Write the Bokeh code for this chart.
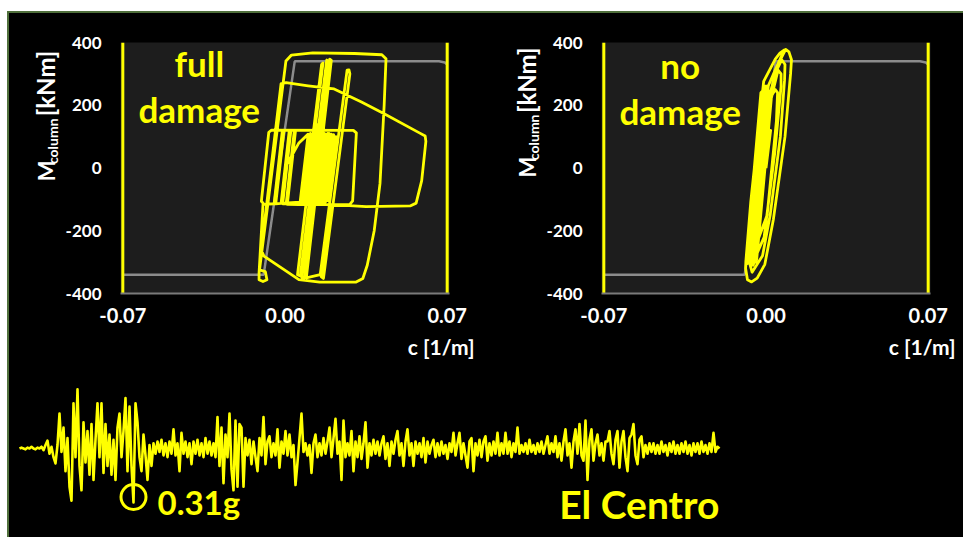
import numpy as np
from bokeh.plotting import figure
from bokeh.layouts import row, column
from bokeh.models import Range1d, FixedTicker, PrintfTickFormatter, Label
from bokeh.embed import file_html
from bokeh.resources import INLINE

YEL = "#ffff00"
GREY = "#8c8c8c"
FONT = "Lato"

# ---------------- data ----------------
curv_ticks = [-0.07, 0.0, 0.07]
moment_ticks = [-400, -200, 0, 200, 400]
limit_curv = [-0.07, 0.07]
backbone_c = [-0.07, -0.0092, 0.0042, 0.0665, 0.0690, 0.0700]
backbone_m = [-340, -340, 340, 340, 336, 330]

full_damage_path = [
    (0.0000, 0), (0.0060, 80),
    (0.0100, 108), (0.0065, -110), (0.0110, 110), (0.0075, -112), (0.0120, 108), (0.0085, -110),
    (0.0130, 110), (0.0095, -112), (0.0140, 108), (0.0105, -110), (0.0150, 110), (0.0115, -112),
    (0.0160, 108), (0.0125, -110), (0.0170, 110), (0.0135, -112), (0.0180, 108), (0.0145, -110),
    (0.0190, 110), (0.0155, -112), (0.0200, 108), (0.0165, -110), (0.0210, 106), (0.0175, -108),
    (0.0220, 100), (0.0185, -104),
    (0.0205, 104), (0.0170, -106), (0.0195, 108), (0.0160, -110), (0.0185, 110), (0.0150, -112),
    (0.0175, 108), (0.0140, -110), (0.0165, 110), (0.0130, -112), (0.0155, 108), (0.0120, -110),
    (0.0145, 110), (0.0110, -112), (0.0135, 140), (0.0100, -110), (0.0125, 110), (0.0090, -112),
    (0.0115, 106), (0.0080, -108),
    (-0.0090, -116), (-0.0102, -106), (-0.0070, 114), (-0.0058, 121), (0.0295, 120), (0.0308, 112),
    (0.0292, -105), (0.0280, -116), (0.0060, -117),
    (0.0010, -116), (0.0045, 116), (0.0040, 118), (0.0005, -114), (-0.0010, -114), (0.0025, 117),
    (0.0018, 117), (-0.0017, -113), (-0.0040, -114), (-0.0005, 116), (-0.0012, 116), (-0.0047, -114),
    (-0.0095, -116), (-0.0112, -335), (-0.0112, -356), (-0.0095, -362), (-0.0078, -356),
    (-0.0085, -330), (-0.0110, -325),
    (0.0004, 341), (0.0028, 360), (0.0120, 367), (0.0300, 365), (0.0418, 361), (0.0436, 348),
    (0.0428, 200), (0.0410, -50), (0.0385, -200), (0.0355, -310), (0.0336, -352), (0.0305, -364),
    (0.0150, -364), (0.0060, -356),
    (-0.0091, -281), (-0.0102, -262), (-0.0100, -245), (-0.0017, 269), (0.0005, 272), (0.0100, 262),
    (0.0212, 252), (0.0330, 210), (0.0430, 172), (0.0580, 112), (0.0605, 102), (0.0608, 85),
    (0.0590, -40), (0.0566, -112), (0.0540, -121), (0.0350, -123), (0.0260, -119),
    (0.0200, -120), (0.0156, -346), (0.0166, -352), (0.0280, 300), (0.0276, 313), (0.0268, 312),
    (0.0152, -340), (0.0092, -350), (0.0200, 343), (0.0193, 347), (0.0084, -350), (0.0072, -348),
    (0.0186, 340), (0.0180, 344), (0.0066, -344), (0.0054, -340), (0.0164, 335), (0.0158, 330),
    (0.0120, 100), (0.0130, 0),
]

no_damage_path = [
    (0.0000, 0), (0.0020, 120),
    (-0.0086, -300), (-0.0022, 240), (-0.0016, 245), (-0.0080, -305), (-0.0074, -300), (-0.0010, 250),
    (-0.0004, 245), (-0.0068, -310), (-0.0062, -305), (0.0002, 255), (0.0008, 250), (-0.0056, -310),
    (-0.0050, -300), (0.0014, 245), (0.0020, 240), (-0.0044, -300), (-0.0040, -290), (0.0024, 230),
    (0.0040, 250), (0.0050, 240), (0.0045, 150), (0.0005, -150), (-0.0050, -260), (-0.0058, -245),
    (-0.0040, -100), (0.0000, 150), (0.0030, 245),
    (0.0052, 312), (0.0065, 300), (0.0065, 260), (0.0038, 50), (-0.0008, -220), (-0.0055, -300),
    (-0.0064, -285), (-0.0055, -200), (-0.0020, 50), (0.0020, 240), (0.0045, 310),
    (0.0068, 345), (0.0082, 330), (0.0080, 280), (0.0062, 100), (0.0018, -150), (-0.0015, -280),
    (-0.0060, -332), (-0.0072, -300), (-0.0060, -200), (-0.0030, 0), (0.0005, 200), (0.0040, 300),
    (0.0060, 342),
    (0.0085, 378), (0.0099, 370), (0.0110, 345), (0.0106, 300), (0.0082, 100), (0.0032, -163),
    (-0.0005, -307), (-0.0038, -351), (-0.0062, -363), (-0.0080, -356), (-0.0088, -320),
    (-0.0087, -298), (-0.0066, -110), (-0.0036, 100), (-0.0010, 276), (0.0040, 347), (0.0060, 366),
    (0.0078, 376),
    (0.0010, 262), (-0.0060, -290), (-0.0066, -272), (0.0000, 266),
]

accel_g = [
    0.0, 0.005, 0.0, -0.005, 0.005, 0.0, 0.01, 0.0, -0.005, 0.005,
    0.0, 0.01, -0.01, 0.02, 0.045, -0.03, 0.01, -0.05, -0.086, 0.02,
    0.20, -0.02, 0.12, -0.13, 0.06, -0.22, -0.30, 0.26, -0.05, 0.34,
    -0.10, -0.24, 0.15, -0.08, 0.10, -0.15, 0.14, -0.18, 0.05, 0.26,
    -0.05, 0.26, -0.14, 0.14, -0.10, 0.08, -0.15, 0.05, -0.18, 0.12,
    0.20, -0.05, 0.10, 0.29, -0.13, 0.24, -0.10, -0.31, 0.26, 0.15,
    -0.05, -0.13, 0.08, -0.04, -0.18, 0.02, -0.10, 0.03, -0.03, 0.04,
    -0.02, 0.05, -0.04, 0.03, -0.05, 0.04, -0.03, 0.11, -0.04, 0.03,
    -0.13, 0.09, -0.03, 0.04, -0.05, 0.03, -0.09, 0.04, -0.03, 0.05,
    -0.04, 0.03, -0.05, 0.06, -0.03, 0.04, -0.04, 0.03, -0.05, 0.18,
    -0.10, 0.12, -0.20, 0.08, -0.05, 0.20, -0.12, -0.24, 0.16, -0.22,
    0.14, 0.12, -0.22, 0.06, -0.04, 0.05, -0.09, 0.04, -0.05, -0.13,
    0.06, -0.04, 0.18, -0.09, 0.04, 0.07, -0.05, 0.03, -0.04, 0.11,
    -0.11, 0.04, -0.03, 0.10, -0.04, 0.08, -0.05, 0.02, -0.21, -0.08,
    0.06, 0.20, -0.02, 0.03, -0.04, 0.02, -0.14, 0.03, 0.08, -0.05,
    0.03, -0.04, 0.06, -0.03, 0.04, 0.12, -0.05, 0.06, 0.17, -0.03,
    0.04, -0.18, 0.16, -0.05, 0.03, -0.04, 0.10, -0.13, 0.04, -0.05,
    0.07, -0.06, 0.03, 0.15, -0.11, 0.03, -0.04, 0.05, -0.03, 0.04,
    -0.04, 0.03, 0.07, -0.06, 0.03, -0.10, 0.04, -0.03, 0.05, 0.10,
    -0.04, 0.03, -0.10, 0.04, 0.11, -0.04, 0.03, -0.10, 0.04, -0.03,
    0.03, -0.05, 0.06, -0.08, 0.04, -0.03, 0.02, 0.05, -0.05, 0.03,
    -0.04, 0.04, -0.03, 0.02, -0.06, 0.03, -0.02, 0.09, -0.04, 0.03,
    0.09, -0.06, 0.03, -0.04, -0.11, 0.04, 0.06, -0.13, 0.03, -0.04,
    0.05, -0.05, 0.04, 0.07, -0.07, 0.03, -0.04, 0.04, -0.03, 0.09,
    -0.04, 0.03, -0.03, 0.09, -0.03, 0.04, -0.05, 0.03, -0.02, 0.12,
    -0.03, 0.02, -0.02, 0.03, -0.03, 0.05, -0.02, 0.02, -0.03, 0.03,
    -0.02, 0.04, -0.03, 0.02, 0.07, -0.03, 0.03, -0.02, 0.07, -0.05,
    0.03, -0.07, 0.04, 0.11, -0.04, 0.03, -0.11, 0.04, 0.11, -0.03,
    0.14, -0.04, -0.07, 0.16, -0.18, 0.05, 0.11, -0.07, 0.03, 0.08,
    -0.04, 0.03, -0.07, 0.04, 0.04, 0.10, -0.03, -0.09, 0.05, 0.10,
    -0.11, 0.04, 0.10, -0.05, -0.13, 0.06, 0.08, 0.14, -0.04, -0.09,
    0.05, 0.07, -0.05, 0.02, -0.03, 0.03, -0.02, 0.03, -0.03, 0.02,
    -0.03, 0.04, -0.02, 0.02, -0.04, 0.03, -0.02, 0.04, -0.03, 0.02,
    -0.03, 0.03, -0.02, 0.04, -0.03, 0.02, -0.04, 0.03, -0.02, 0.03,
    -0.03, 0.04, -0.02, 0.02, -0.03, 0.03, -0.02, 0.09, -0.02, 0.01,
    0.0,
]
dt = 0.1


def bare(width, height, xr, yr, fill="black"):
    f = figure(width=width, height=height, output_backend="svg", toolbar_location=None,
               x_range=xr, y_range=yr, x_axis_location=None, y_axis_location=None,
               min_border=0)
    f.min_border_left = f.min_border_right = f.min_border_top = f.min_border_bottom = 0
    f.background_fill_color = fill
    f.border_fill_color = fill
    f.outline_line_color = None
    f.grid.visible = False
    return f


def axis_title(width, height, x_m, x_u, x_sub, y_m, y_sub, y_unit):
    # rotated "M_column [kNm]" drawn inside a narrow strip left of each panel
    f = bare(width, height, Range1d(0, width), Range1d(0, height))
    common = dict(text_color="white", text_font=FONT, text_font_style="bold",
                  text_baseline="alphabetic", text_align="left", angle=np.pi / 2)
    f.add_layout(Label(x=x_m, y=y_m, text="M", text_font_size="22px", **common))
    f.add_layout(Label(x=x_sub, y=y_sub, text="column", text_font_size="14px", **common))
    f.add_layout(Label(x=x_u, y=y_unit, text="[kNm]", text_font_size="24px", **common))
    return f


def panel(path, width, b_left, b_right, b_top, frame_h, height, words, word_y):
    p = figure(width=width, height=height, output_backend="svg", toolbar_location=None,
               x_range=Range1d(-0.071, 0.071), y_range=Range1d(-400, 400),
               min_border_left=b_left, min_border_right=b_right, min_border_top=b_top,
               min_border_bottom=height - b_top - frame_h)
    p.background_fill_color = "#1d1d1d"
    p.border_fill_color = "black"
    p.outline_line_color = None
    p.grid.visible = False

    p.yaxis.ticker = FixedTicker(ticks=moment_ticks)
    p.yaxis.major_label_overrides = {v: str(v) for v in moment_ticks}
    p.xaxis.ticker = FixedTicker(ticks=curv_ticks)
    p.xaxis.formatter = PrintfTickFormatter(format="%.2f")
    for ax in (p.xaxis[0], p.yaxis[0]):
        ax.major_label_text_color = "white"
        ax.major_label_text_font = FONT
        ax.major_label_text_font_style = "bold"
        ax.major_tick_line_color = None
        ax.minor_tick_line_color = None
        ax.major_tick_out = 0
        ax.major_tick_in = 0
        ax.minor_tick_out = 0
        ax.minor_tick_in = 0
    p.xaxis.major_label_text_font_size = "20px"
    p.yaxis.major_label_text_font_size = "17px"
    p.yaxis.axis_line_color = None
    p.yaxis.major_label_standoff = 19
    p.xaxis.axis_line_color = "#7a7a7a"
    p.xaxis.axis_line_width = 2
    p.xaxis.major_label_standoff = 14

    p.line(backbone_c, backbone_m, line_color=GREY, line_width=2.5)
    p.segment(x0=limit_curv, y0=[-400, -400], x1=limit_curv, y1=[400, 400],
              line_color=YEL, line_width=3)
    cs = [pt[0] for pt in path]
    ms = [pt[1] for pt in path]
    p.line(cs, ms, line_color=YEL, line_width=2.8, line_join="round")

    for txt, yv in zip(words, word_y):
        p.add_layout(Label(x=-0.037, y=yv, text=txt, text_align="center",
                           text_baseline="alphabetic", text_color=YEL, text_font=FONT,
                           text_font_style="bold", text_font_size="35px"))
    return p


TOP_H = 320
t1 = axis_title(51, TOP_H, 37, 36, 43, 143, 165, 226)
p1 = panel(full_damage_path, 420, 60, 31, 29, 253, TOP_H, ["full", "damage"], [335, 188])
t2 = axis_title(61, TOP_H, 47, 46, 53, 148, 170, 230)
p2 = panel(no_damage_path, 422, 60, 33, 25, 255, TOP_H, ["no", "damage"], [328, 181])

# ground motion record (frame = whole canvas)
acc = np.array(accel_g)
t = np.arange(len(acc)) * dt
p3 = bare(954, 524 - TOP_H, Range1d(-0.5, 47.2), Range1d(-0.511, 0.660))
p3.line(t, acc, line_color=YEL, line_width=2.6, line_join="round")
i_pk = int(np.argmin(acc))
p3.scatter(x=[t[i_pk]], y=[acc[i_pk] * 0.9], marker="circle", size=25,
           fill_color=None, line_color=YEL, line_width=3)
p3.add_layout(Label(x=t[i_pk] + 1.2, y=-0.306, text=f"{abs(acc[i_pk]):.2f}g",
                    text_color=YEL, text_font=FONT, text_font_style="bold",
                    text_font_size="33px", text_align="left", text_baseline="alphabetic"))
p3.add_layout(Label(x=t[-1], y=-0.321, text="El Centro", text_color=YEL, text_font=FONT,
                    text_font_style="bold", text_font_size="39px", text_align="right",
                    text_baseline="alphabetic"))
# x-axis titles of the two upper panels (they sit at the top of this strip)
for xr, yr in [(22.75, 0.583), (46.8, 0.583)]:
    p3.add_layout(Label(x=xr, y=yr, text="c [1/m]", text_color="white", text_font=FONT,
                        text_font_style="bold", text_font_size="21px", text_align="right",
                        text_baseline="alphabetic"))

layout = column(row(t1, p1, t2, p2), p3, margin=(11, 0, 0, 7),
                styles={"background-color": "black",
                        "border-top": "2px solid #50703c",
                        "border-left": "2px solid #50703c"})
open("out.html", "w").write(file_html(layout, INLINE))
